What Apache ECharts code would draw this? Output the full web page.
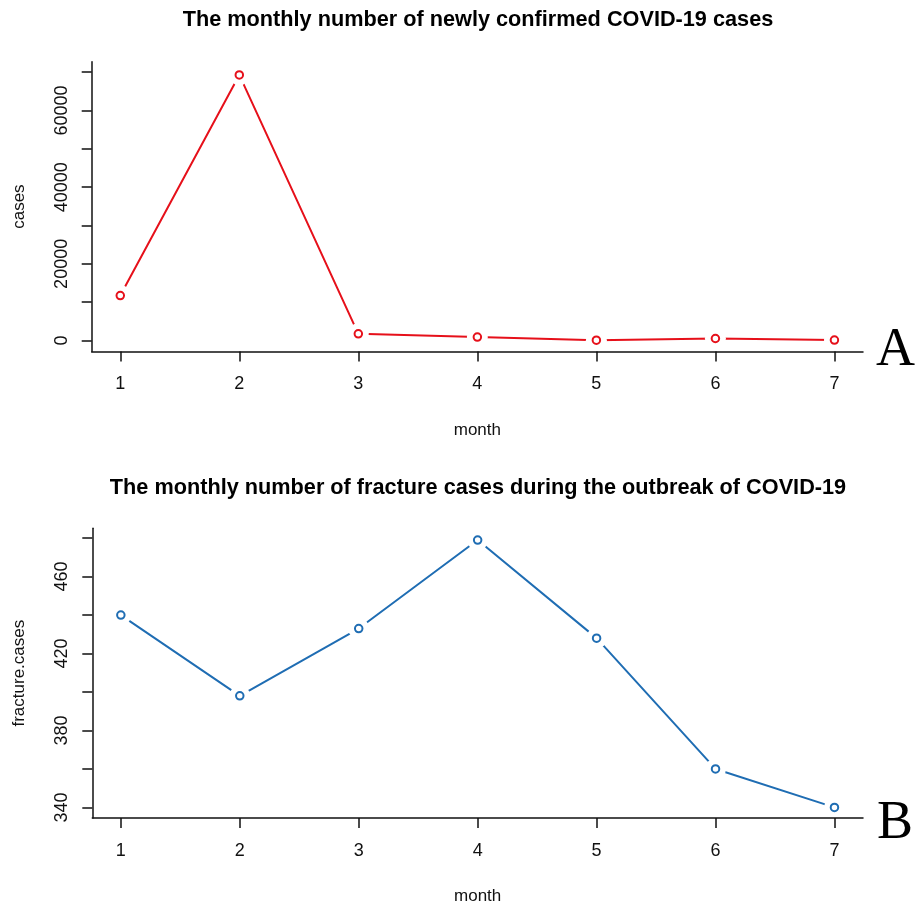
<!DOCTYPE html>
<html>
<head>
<meta charset="utf-8">
<script src="https://cdn.jsdelivr.net/npm/echarts@6/dist/echarts.min.js"></script>
<style>
html,body{margin:0;padding:0;background:#fff;}
#chart{width:916px;height:906px;}
</style>
</head>
<body>
<div id="chart"></div>
<script>
// ---- data ----
const months = [1, 2, 3, 4, 5, 6, 7];
const covidCases = [11730, 69300, 1750, 890, 80, 520, 100];
const fractureCases = [440, 398, 433, 479, 428, 360, 340];
const xTicks = [1, 2, 3, 4, 5, 6, 7];
const covidTicks = [0, 10000, 20000, 30000, 40000, 50000, 60000, 70000];
const covidLabels = [0, 20000, 40000, 60000];
const fractureTicks = [340, 360, 380, 400, 420, 440, 460, 480];
const fractureLabels = [340, 380, 420, 460];
const titleA = 'The monthly number of newly confirmed COVID-19 cases';
const titleB = 'The monthly number of fracture cases during the outbreak of COVID-19';

const RED = '#e6101a';
const BLUE = '#1f6db3';
const FONT = 'Liberation Sans, Arial, sans-serif';

const chart = echarts.init(document.getElementById('chart'), null, {renderer: 'canvas'});

function xAxisCfg(gridIndex) {
  return {
    type: 'value', gridIndex, min: 0.76, max: 7.24, z: 6,
    name: 'month', nameLocation: 'middle', nameGap: 70,
    nameTextStyle: {fontFamily: FONT, fontSize: 17, color: '#111'},
    splitLine: {show: false},
    axisLine: {show: true, onZero: false, lineStyle: {color: '#111', width: 1.5}},
    axisTick: {show: true, length: 10, inside: false, customValues: xTicks, lineStyle: {color: '#111', width: 1.5}},
    axisLabel: {show: true, customValues: xTicks, margin: 24, fontFamily: FONT, fontSize: 18, color: '#111', formatter: v => String(v)}
  };
}
function yAxisCfg(gridIndex, min, max, ticks, labels, name) {
  return {
    type: 'value', gridIndex, min, max, z: 6,
    name, nameLocation: 'middle', nameGap: 64, nameRotate: 90,
    nameTextStyle: {fontFamily: FONT, fontSize: 17, color: '#111'},
    splitLine: {show: false},
    axisLine: {show: true, onZero: false, lineStyle: {color: '#111', width: 1.5}},
    axisTick: {show: true, length: 10, inside: false, customValues: ticks, lineStyle: {color: '#111', width: 1.5}},
    axisLabel: {show: true, customValues: labels, rotate: 90, margin: 21, fontFamily: FONT, fontSize: 18, color: '#111', formatter: v => String(v)}
  };
}
function pairs(xs, ys) { return xs.map((x, i) => [x, ys[i]]); }

function seriesFor(idx, values, color) {
  const data = pairs(months, values);
  return [
    {
      type: 'line', xAxisIndex: idx, yAxisIndex: idx, data,
      symbol: 'circle', symbolSize: 21, showAllSymbol: true,
      itemStyle: {color: '#ffffff', borderWidth: 0},
      lineStyle: {color, width: 2},
      emphasis: {disabled: true}, animation: false, z: 2
    },
    {
      type: 'scatter', xAxisIndex: idx, yAxisIndex: idx, data,
      symbol: 'emptyCircle', symbolSize: 7.5,
      itemStyle: {color: color, borderColor: color, borderWidth: 2.2, opacity: 1},
      emphasis: {disabled: true}, animation: false, z: 5
    }
  ];
}

chart.setOption({
  animation: false,
  backgroundColor: '#ffffff',
  title: [
    {text: titleA, left: 473, top: 4, textAlign: 'center',
     textStyle: {fontFamily: FONT, fontSize: 21.7, fontWeight: 'bold', color: '#000'}},
    {text: titleB, left: 473, top: 472, textAlign: 'center',
     textStyle: {fontFamily: FONT, fontSize: 21.7, fontWeight: 'bold', color: '#000'}}
  ],
  grid: [
    {left: 91.7, top: 61.7, width: 771.3, height: 289.8, containLabel: false},
    {left: 92.3, top: 528.3, width: 770.7, height: 290.7, containLabel: false}
  ],
  xAxis: [xAxisCfg(0), xAxisCfg(1)],
  yAxis: [
    yAxisCfg(0, -2870, 72750, covidTicks, covidLabels, 'cases'),
    yAxisCfg(1, 334.5, 485.1, fractureTicks, fractureLabels, 'fracture.cases')
  ],
  series: [...seriesFor(0, covidCases, RED), ...seriesFor(1, fractureCases, BLUE)],
  graphic: [
    {type: 'text', left: 876, top: 324, style: {text: 'A', font: '54px "Liberation Serif", "Times New Roman", serif', fill: '#000'}},
    {type: 'text', left: 877, top: 797, style: {text: 'B', font: '54px "Liberation Serif", "Times New Roman", serif', fill: '#000'}}
  ]
});
</script>
</body>
</html>
